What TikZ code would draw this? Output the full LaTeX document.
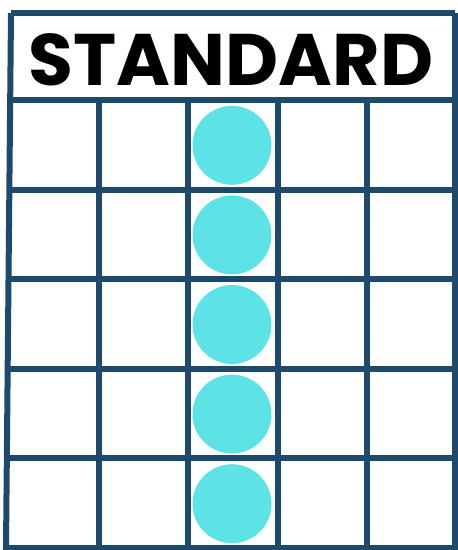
\documentclass[tikz,border=0pt]{standalone}
\usepackage{fontspec}
\newfontfamily\headfont{Poppins}
\usetikzlibrary{positioning}
\definecolor{gridblue}{RGB}{29, 74, 108}
\definecolor{dotcyan}{RGB}{93, 226, 230}

\begin{document}
\begin{tikzpicture}[
      x=1pt, y=-1pt,
      frame/.style={draw=gridblue, line width=6pt},
      dot/.style={circle, fill=dotcyan, minimum size=79pt, inner sep=0pt},
      title/.style={font=\headfont\bfseries\fontsize{73}{73}\selectfont, text=black}
  ]
  \useasboundingbox (0,0) rectangle (458,550);

  % Header
  \node[title, anchor=base] (head) at (231,85) {STANDARD};

  % Marked column
  \foreach \r in {1,...,5} {
    \node[dot] (dot\r) at (232,{145.3+89.6*(\r-1)}) {};
  }

  % Frame and rows
  \draw[frame] (11,13) -- (455,13);
  \draw[frame] (11,13) -- (6,548) -- (455,548) -- (455,13);
  \foreach \r in {0,...,4} {
    \draw[frame] ({10.4-0.0093*89.6*\r},{100+89.6*\r}) -- (455,{100+89.6*\r});
  }

  % Columns
  \foreach \c in {99,188,278,367} {
    \draw[frame] (\c,100) -- (\c,548);
  }

  \end{tikzpicture}
\end{document}
